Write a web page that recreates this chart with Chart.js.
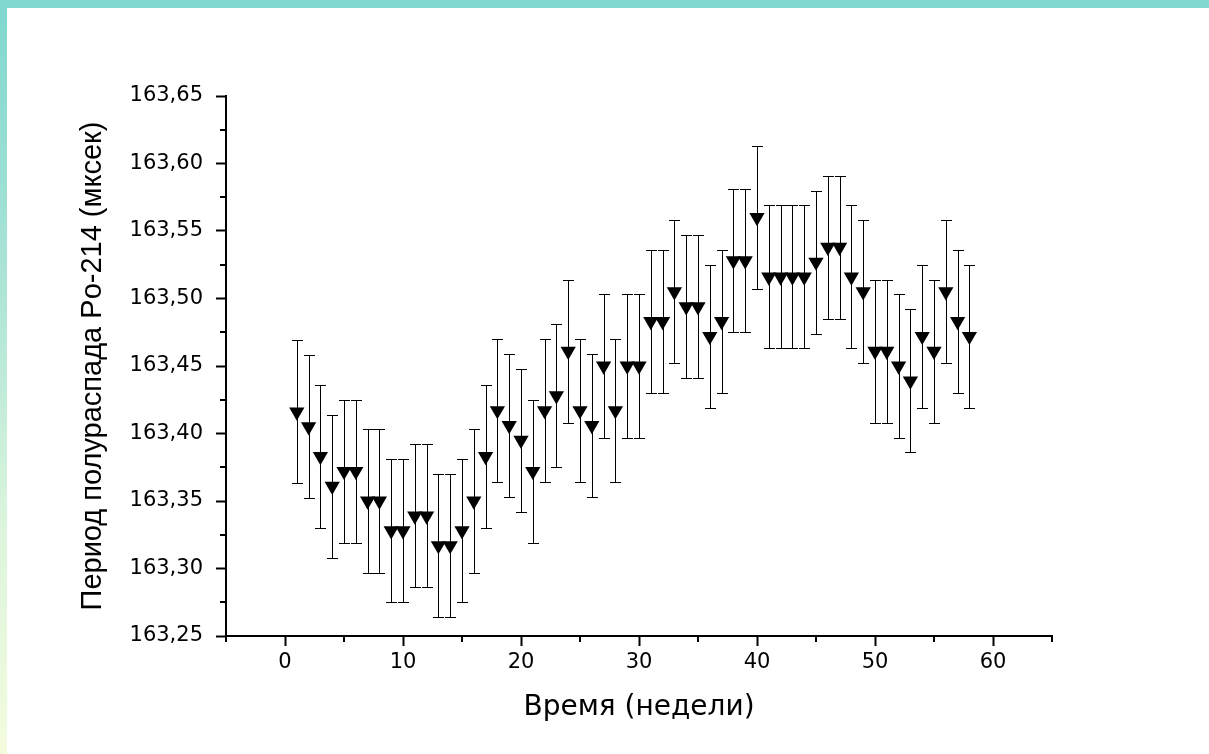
<!DOCTYPE html>
<html lang="ru">

<head>
    <meta charset="UTF-8">
    <meta name="viewport" content="width=device-width, initial-scale=1.0">
    <title>Период полураспада Po-214</title>
    <script src="https://cdn.jsdelivr.net/npm/chart.js"></script>
    <style>
        html,
        body {
            margin: 0;
            padding: 0;
            width: 1209px;
            height: 754px;
            overflow: hidden;
        }

        body {
            background: linear-gradient(to bottom, #7fd7cf 0%, #a9e3d6 35%, #dcf5dc 70%, #f3fbdd 100%);
            position: relative;
        }

        .top-band {
            position: absolute;
            left: 0;
            top: 0;
            width: 1209px;
            height: 8px;
            background: #80d8d0;
        }

        .panel {
            position: absolute;
            left: 7px;
            top: 8px;
            width: 1202px;
            height: 746px;
            background: #fff;
        }
    </style>
</head>

<body>
    <div class="top-band"></div>
    <div class="panel">
        <canvas id="halfLifeChart"></canvas>
    </div>

    <script>
        // Номер недели измерения
        const weeks = [
            1, 2, 3, 4, 5, 6, 7, 8, 9, 10,
            11, 12, 13, 14, 15, 16, 17, 18, 19, 20,
            21, 22, 23, 24, 25, 26, 27, 28, 29, 30,
            31, 32, 33, 34, 35, 36, 37, 38, 39, 40,
            41, 42, 43, 44, 45, 46, 47, 48, 49, 50,
            51, 52, 53, 54, 55, 56, 57, 58
        ];

        // Период полураспада, мксек
        const halfLife = [
            163.416, 163.405, 163.383, 163.361, 163.372, 163.372, 163.350, 163.350, 163.328, 163.328,
            163.339, 163.339, 163.317, 163.317, 163.328, 163.350, 163.383, 163.417, 163.406, 163.395,
            163.372, 163.417, 163.428, 163.461, 163.417, 163.406, 163.450, 163.417, 163.450, 163.450,
            163.483, 163.483, 163.505, 163.494, 163.494, 163.472, 163.483, 163.528, 163.528, 163.560,
            163.516, 163.516, 163.516, 163.516, 163.527, 163.538, 163.538, 163.516, 163.505, 163.461,
            163.461, 163.450, 163.439, 163.472, 163.461, 163.505, 163.483, 163.472
        ];

        // Погрешность измерения, мксек
        const halfLifeErr = [
            0.053, 0.053, 0.053, 0.053, 0.053, 0.053, 0.053, 0.053, 0.053, 0.053,
            0.053, 0.053, 0.053, 0.053, 0.053, 0.053, 0.053, 0.053, 0.053, 0.053,
            0.053, 0.053, 0.053, 0.053, 0.053, 0.053, 0.053, 0.053, 0.053, 0.053,
            0.053, 0.053, 0.053, 0.053, 0.053, 0.053, 0.053, 0.053, 0.053, 0.053,
            0.053, 0.053, 0.053, 0.053, 0.053, 0.053, 0.053, 0.053, 0.053, 0.053,
            0.053, 0.053, 0.053, 0.053, 0.053, 0.053, 0.053, 0.053
        ];

        // Деления осей
        const xMajorTicks = [0, 10, 20, 30, 40, 50, 60];
        const xMinorTicks = [-5, 5, 15, 25, 35, 45, 55, 65];
        const yMajorTicks = [163.25, 163.30, 163.35, 163.40, 163.45, 163.50, 163.55, 163.60, 163.65];
        const yMinorTicks = [163.275, 163.325, 163.375, 163.425, 163.475, 163.525, 163.575, 163.625];

        // Усы погрешностей под маркерами
        const errorBars = {
            id: 'errorBars',
            beforeDatasetsDraw(chart) {
                const { ctx, scales: { x, y } } = chart;
                ctx.save();
                ctx.strokeStyle = '#000';
                ctx.lineWidth = 1;
                weeks.forEach((w, i) => {
                    const px = Math.round(x.getPixelForValue(w)) + 0.5;
                    const top = Math.round(y.getPixelForValue(halfLife[i] + halfLifeErr[i])) + 0.5;
                    const bot = Math.round(y.getPixelForValue(halfLife[i] - halfLifeErr[i])) + 0.5;
                    ctx.beginPath();
                    ctx.moveTo(px, top);
                    ctx.lineTo(px, bot);
                    ctx.moveTo(px - 5.5, top);
                    ctx.lineTo(px + 5.5, top);
                    ctx.moveTo(px - 5.5, bot);
                    ctx.lineTo(px + 5.5, bot);
                    ctx.stroke();
                });
                ctx.restore();
            }
        };

        // Короткие промежуточные деления
        const minorTicks = {
            id: 'minorTicks',
            afterDraw(chart) {
                const { ctx, scales: { x, y }, chartArea } = chart;
                ctx.save();
                ctx.strokeStyle = '#000';
                ctx.lineWidth = 2;
                ctx.beginPath();
                xMinorTicks.forEach(v => {
                    const px = Math.round(x.getPixelForValue(v));
                    ctx.moveTo(px, chartArea.bottom);
                    ctx.lineTo(px, chartArea.bottom + 6);
                });
                yMinorTicks.forEach(v => {
                    const py = Math.round(y.getPixelForValue(v));
                    ctx.moveTo(chartArea.left - 6, py);
                    ctx.lineTo(chartArea.left, py);
                });
                ctx.stroke();
                ctx.restore();
            }
        };

        const ctx = document.getElementById('halfLifeChart').getContext('2d');

        new Chart(ctx, {
            type: 'scatter',
            data: {
                datasets: [{
                    label: 'Po-214',
                    data: weeks.map((w, i) => ({ x: w, y: halfLife[i] })),
                    pointStyle: 'triangle',
                    rotation: 180,
                    pointRadius: 8.8,
                    pointHoverRadius: 8.8,
                    backgroundColor: '#000',
                    borderColor: '#000',
                    borderWidth: 0
                }]
            },
            options: {
                responsive: true,
                maintainAspectRatio: false,
                animation: false,
                events: [],
                layout: { padding: { top: 88, right: 157, left: 0, bottom: 0 } },
                plugins: {
                    legend: { display: false },
                    tooltip: { enabled: false }
                },
                scales: {
                    x: {
                        type: 'linear',
                        min: -5,
                        max: 65,
                        afterBuildTicks: scale => { scale.ticks = xMajorTicks.map(v => ({ value: v })); },
                        afterFit: scale => { scale.height = 118; },
                        grid: { drawOnChartArea: false, drawTicks: true, tickLength: 10, tickWidth: 2, tickColor: '#000' },
                        border: { display: true, color: '#000', width: 2 },
                        ticks: {
                            color: '#000',
                            padding: 4,
                            maxRotation: 0,
                            font: { family: 'DejaVu Sans', size: 21 }
                        },
                        title: {
                            display: true,
                            text: 'Время (недели)',
                            color: '#000',
                            padding: { top: 0, bottom: 29 },
                            font: { family: 'DejaVu Sans', size: 28 }
                        }
                    },
                    y: {
                        type: 'linear',
                        min: 163.25,
                        max: 163.65,
                        afterBuildTicks: scale => { scale.ticks = yMajorTicks.map(v => ({ value: v })); },
                        afterFit: scale => { scale.width = 219; },
                        grid: { drawOnChartArea: false, drawTicks: true, tickLength: 10, tickWidth: 2, tickColor: '#000' },
                        border: { display: true, color: '#000', width: 2 },
                        ticks: {
                            color: '#000',
                            padding: 13,
                            font: { family: 'DejaVu Sans', size: 21 },
                            callback: v => v.toFixed(2).replace('.', ',')
                        },
                        title: {
                            display: true,
                            text: 'Период полураспада Po-214 (мксек)',
                            color: '#000',
                            padding: { top: 69, bottom: 0 },
                            font: { family: 'Liberation Sans', size: 29 }
                        }
                    }
                }
            },
            plugins: [errorBars, minorTicks]
        });
    </script>

</body>

</html>
